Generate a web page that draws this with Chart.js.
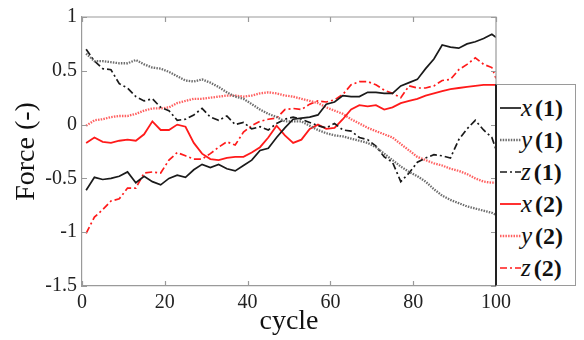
<!DOCTYPE html>
<html>
<head>
<meta charset="UTF-8">
<title>Force vs cycle</title>
<script src="https://cdn.jsdelivr.net/npm/chart.js"></script>
<style>
  html, body { margin: 0; padding: 0; background: #fff; }
  #wrap { position: relative; width: 584px; height: 340px; }
  #legend {
    position: absolute; left: 495px; top: 84px; width: 81px; height: 202px;
    box-sizing: border-box; border: 1px solid #9a9a9a; border-left: 2px solid #222;
    background: #fff; padding-top: 7px;
    font-family: "Liberation Serif", "Times New Roman", serif; color: #111;
  }
  .row { height: 32px; display: flex; align-items: center; white-space: nowrap; }
  .row svg { flex: none; margin-left: 3px; }
  .row i { font-size: 25px; margin-right: 3px; }
  .row b { font-size: 24px; }
</style>
</head>
<body>
<div id="wrap">
  <canvas id="grafico" width="584" height="340"></canvas>
  <div id="legend"></div>
</div>
<script>
  const cycles = [1, 3, 5, 7, 9, 11, 13, 15, 17, 19, 21, 23, 25, 27, 29, 31, 33, 35, 37, 39,
    41, 43, 45, 47, 49, 51, 53, 55, 57, 59, 61, 63, 65, 67, 69, 71, 73, 75, 77, 79,
    81, 83, 85, 87, 89, 91, 93, 95, 97, 99, 100];
  const x1 = [-0.61, -0.49, -0.51, -0.50, -0.48, -0.44, -0.54, -0.48, -0.53, -0.56,
    -0.50, -0.47, -0.49, -0.42, -0.37, -0.40, -0.37, -0.41, -0.43, -0.38,
    -0.33, -0.24, -0.22, -0.12, -0.03, 0.05, 0.06, 0.07, 0.09, 0.19,
    0.21, 0.27, 0.26, 0.26, 0.30, 0.30, 0.29, 0.29, 0.36, 0.39,
    0.42, 0.52, 0.61, 0.74, 0.72, 0.71, 0.75, 0.77, 0.80, 0.84, 0.81];
  const y1 = [0.66, 0.59, 0.59, 0.58, 0.57, 0.57, 0.60, 0.56, 0.53, 0.52,
    0.49, 0.45, 0.41, 0.40, 0.42, 0.39, 0.35, 0.30, 0.26, 0.24,
    0.19, 0.14, 0.10, 0.07, 0.03, 0.03, 0.03, -0.01, -0.05, -0.08,
    -0.10, -0.11, -0.13, -0.15, -0.17, -0.21, -0.27, -0.33, -0.39, -0.44,
    -0.48, -0.53, -0.60, -0.66, -0.70, -0.73, -0.76, -0.78, -0.80, -0.82, -0.84];
  const z1 = [0.70, 0.59, 0.52, 0.51, 0.38, 0.34, 0.26, 0.22, 0.24, 0.16,
    0.13, 0.04, 0.05, 0.09, 0.15, 0.07, 0.04, 0.08, 0.00, 0.02,
    -0.04, -0.02, -0.05, 0.01, 0.05, 0.07, 0.05, 0.02, -0.01, -0.03,
    0.01, -0.05, -0.06, -0.12, -0.14, -0.20, -0.30, -0.35, -0.53, -0.45,
    -0.35, -0.31, -0.28, -0.29, -0.31, -0.14, -0.04, 0.04, -0.05, -0.12, -0.23];
  const x2 = [-0.17, -0.12, -0.16, -0.17, -0.15, -0.14, -0.15, -0.09, 0.03, -0.05,
    -0.05, 0.00, -0.02, -0.17, -0.27, -0.32, -0.33, -0.31, -0.30, -0.30,
    -0.26, -0.21, -0.12, -0.01, -0.10, -0.17, -0.14, -0.04, 0.00, -0.04,
    -0.03, 0.05, 0.14, 0.18, 0.17, 0.18, 0.14, 0.16, 0.20, 0.22,
    0.24, 0.27, 0.29, 0.31, 0.33, 0.34, 0.35, 0.36, 0.37, 0.37, 0.37];
  const y2 = [-0.01, 0.04, 0.05, 0.07, 0.08, 0.08, 0.10, 0.13, 0.15, 0.15,
    0.16, 0.20, 0.22, 0.24, 0.24, 0.25, 0.26, 0.27, 0.27, 0.26,
    0.27, 0.29, 0.30, 0.29, 0.27, 0.26, 0.24, 0.22, 0.20, 0.16,
    0.13, 0.10, 0.05, 0.01, -0.03, -0.06, -0.09, -0.12, -0.18, -0.24,
    -0.30, -0.33, -0.36, -0.38, -0.41, -0.43, -0.46, -0.50, -0.53, -0.54, -0.54];
  const z2 = [-1.01, -0.86, -0.79, -0.71, -0.69, -0.59, -0.59, -0.45, -0.44, -0.45,
    -0.33, -0.26, -0.29, -0.32, -0.32, -0.27, -0.21, -0.16, -0.19, -0.07,
    -0.01, 0.03, 0.05, 0.06, 0.14, 0.15, 0.14, 0.19, 0.22, 0.21,
    0.23, 0.28, 0.37, 0.40, 0.40, 0.37, 0.32, 0.29, 0.25, 0.36,
    0.34, 0.34, 0.36, 0.41, 0.42, 0.51, 0.56, 0.62, 0.56, 0.53, 0.43];

  const xTicks = [0, 20, 40, 60, 80, 100];
  const yTicks = [-1.5, -1, -0.5, 0, 0.5, 1];
  const yTickLabels = ['-1.5', '-1', '-0.5', '0', '0.5', '1'];

  const serif = '"Liberation Serif", "Times New Roman", serif';
  const frame = '#9a9a9a';

  // letter, index, color, dash, width
  const series = [
    ['x', '1', x1, '#1a1a1a', [], 1.7],
    ['y', '1', y1, '#6e6e6e', [1.5, 1.2], 2.3],
    ['z', '1', z1, '#1a1a1a', [7, 3, 2, 3], 1.7],
    ['x', '2', x2, '#ff1a1a', [], 1.8],
    ['y', '2', y2, '#ff6060', [1.5, 1.2], 2.3],
    ['z', '2', z2, '#ff1a1a', [7, 3, 2, 3], 1.7]
  ];

  // inward ticks + top/right frame
  const moldura = {
    id: 'moldura',
    afterDraw(chart) {
      const { ctx, chartArea: a, scales } = chart;
      ctx.save();
      ctx.strokeStyle = frame;
      ctx.lineWidth = 1.2;
      ctx.beginPath();
      ctx.moveTo(a.left, a.top); ctx.lineTo(a.right, a.top); ctx.lineTo(a.right, a.bottom);
      xTicks.forEach(v => {
        const px = Math.round(scales.x.getPixelForValue(v)) + 0.5;
        ctx.moveTo(px, a.bottom); ctx.lineTo(px, a.bottom - 5);
        ctx.moveTo(px, a.top); ctx.lineTo(px, a.top + 5);
      });
      yTicks.forEach(v => {
        const py = Math.round(scales.y.getPixelForValue(v)) + 0.5;
        ctx.moveTo(a.left, py); ctx.lineTo(a.left + 5, py);
        ctx.moveTo(a.right, py); ctx.lineTo(a.right - 5, py);
      });
      ctx.stroke();
      ctx.restore();
    }
  };

  new Chart(document.getElementById('grafico'), {
    type: 'line',
    data: {
      datasets: series.map(s => ({
        label: s[0] + ' (' + s[1] + ')',
        data: cycles.map((c, i) => ({ x: c, y: s[2][i] })),
        borderColor: s[3],
        borderDash: s[4],
        borderWidth: s[5],
        pointRadius: 0,
        fill: false,
        tension: 0
      }))
    },
    options: {
      responsive: false,
      animation: false,
      devicePixelRatio: 1,
      layout: { padding: { top: 15, right: 88, left: 0, bottom: 0 } },
      plugins: { legend: { display: false }, tooltip: { enabled: false } },
      scales: {
        x: {
          type: 'linear', min: 0, max: 100,
          afterBuildTicks: s => { s.ticks = xTicks.map(v => ({ value: v })); },
          afterFit: s => { s.height = 54; },
          grid: { display: false, drawTicks: false },
          border: { display: true, color: frame, width: 1.2 },
          ticks: { color: '#222', padding: 5, font: { family: serif, size: 20 }, maxRotation: 0 },
          title: { display: true, text: 'cycle', color: '#111', font: { family: serif, size: 28 }, padding: { top: 0, bottom: 2 } }
        },
        y: {
          min: -1.5, max: 1,
          afterBuildTicks: s => { s.ticks = yTicks.map(v => ({ value: v })); },
          afterFit: s => { s.width = 82; },
          grid: { display: false, drawTicks: false },
          border: { display: true, color: frame, width: 1.2 },
          ticks: {
            color: '#222', padding: 5, font: { family: serif, size: 20 },
            callback: v => yTickLabels[yTicks.indexOf(v)]
          },
          title: { display: true, text: 'Force (-)', color: '#111', font: { family: serif, size: 28 }, padding: { top: 10, bottom: 0 } }
        }
      }
    },
    plugins: [moldura]
  });

  // legend with italic letter and bold index
  const leg = document.getElementById('legend');
  series.forEach(s => {
    const row = document.createElement('div');
    row.className = 'row';
    row.innerHTML =
      '<svg width="21" height="20"><line x1="0" y1="10" x2="21" y2="10" stroke="' + s[3] +
      '" stroke-width="' + s[5] + '" stroke-dasharray="' + (s[4].length ? s[4].join(' ') : 'none') +
      '"/></svg><i>' + s[0] + '</i><b>(' + s[1] + ')</b>';
    leg.appendChild(row);
  });
</script>
</body>
</html>
